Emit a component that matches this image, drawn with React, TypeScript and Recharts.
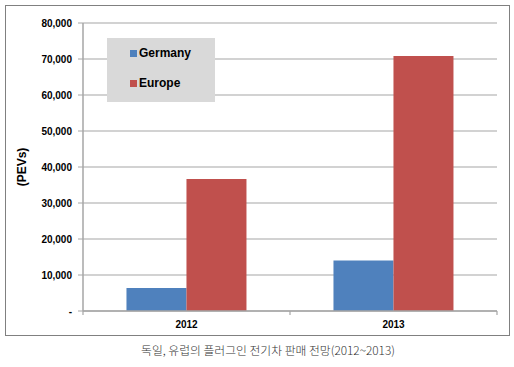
import React from 'react';
import { BarChart, Bar, XAxis, YAxis, CartesianGrid, Legend } from 'recharts';

const years = ['2012', '2013'];
const germany = [6400, 14000];
const europe = [36700, 70800];
const yTicks = [0, 10000, 20000, 30000, 40000, 50000, 60000, 70000, 80000];
const seriesOrder = ['Germany', 'Europe'];

const FONT = '"Liberation Sans", Arial, sans-serif';
const GRID = '#a6a6a6';

const data = years.map((year, i) => ({
  year,
  Germany: germany[i],
  Europe: europe[i],
}));

// grey legend box sitting inside the plot area
const LegendBox = (props: any) => {
  const items = [...(props.payload || [])].sort(
    (a: any, b: any) => seriesOrder.indexOf(a.value) - seriesOrder.indexOf(b.value)
  );
  return (
    <div
      style={{
        width: 108,
        height: 64,
        background: '#d9d9d9',
        boxSizing: 'border-box',
        paddingLeft: 23,
        paddingTop: 0,
        fontFamily: FONT,
        fontWeight: 'bold',
        fontSize: 12,
        color: '#000',
      }}
    >
      {items.map((it: any) => (
        <div
          key={it.value}
          style={{ display: 'flex', alignItems: 'center', height: 30 }}
        >
          <span
            style={{
              width: 7,
              height: 7,
              background: it.color,
              marginRight: 2,
              display: 'inline-block',
            }}
          />
          {it.value}
        </div>
      ))}
    </div>
  );
};

// category label plus Excel-style tick marks on the category boundaries
const YearTick = (props: any) => {
  const { x, y, payload, index, visibleTicksCount } = props;
  const half = payload.offset || 0;
  const axisY = y - 10;
  const last = index === (visibleTicksCount || years.length) - 1;
  return (
    <g>
      <line x1={x - half} x2={x - half} y1={axisY} y2={axisY + 4} stroke={GRID} strokeWidth={1.2} />
      {last && (
        <line x1={x + half} x2={x + half} y1={axisY} y2={axisY + 4} stroke={GRID} strokeWidth={1.2} />
      )}
      <text
        x={x}
        y={y}
        dy="0.71em"
        textAnchor="middle"
        fontFamily={FONT}
        fontSize={10}
        fontWeight="bold"
        fill="#000"
      >
        {payload.value}
      </text>
    </g>
  );
};

export default function App() {
  return (
    <div
      style={{
        position: 'absolute',
        left: 0,
        top: 0,
        width: 514,
        height: 367,
        background: '#fff',
      }}
    >
      <div
        style={{
          position: 'absolute',
          left: 5,
          top: 5,
          width: 505,
          height: 331,
          border: '1.5px solid #808080',
          boxSizing: 'border-box',
        }}
      />
      <div style={{ position: 'absolute', left: 0, top: 0 }}>
        <BarChart
          width={514}
          height={340}
          data={data}
          margin={{ top: 23, right: 17, left: 0, bottom: 5 }}
          barCategoryGap="21%"
          barGap={0}
        >
          <CartesianGrid vertical={false} stroke={GRID} strokeWidth={1.2} />
          <XAxis
            dataKey="year"
            height={24}
            axisLine={{ stroke: GRID, strokeWidth: 1.5 }}
            tickLine={false}
            tickSize={0}
            tickMargin={10}
            interval={0}
            tick={<YearTick />}
          />
          <YAxis
            width={83}
            domain={[0, 80000]}
            ticks={yTicks}
            interval={0}
            axisLine={{ stroke: GRID, strokeWidth: 1.5 }}
            tickLine={{ stroke: GRID }}
            tickSize={5}
            tickMargin={6}
            tick={{ fontFamily: FONT, fontSize: 10, fontWeight: 'bold', fill: '#000' }}
            tickFormatter={(v: number) => (v === 0 ? '-' : v.toLocaleString('en-US'))}
            label={(p: any) => {
              const vb = p.viewBox || {};
              const cy = (vb.y || 23) + (vb.height || 288) / 2;
              return (
                <text
                  x={26}
                  y={cy}
                  transform={`rotate(-90 26 ${cy})`}
                  textAnchor="middle"
                  fontFamily={FONT}
                  fontSize={12}
                  fontWeight="bold"
                  fill="#000"
                >
                  (PEVs)
                </text>
              );
            }}
          />
          {/* right-hand frame line of the plot area */}
          <YAxis
            yAxisId="frame"
            orientation="right"
            width={0}
            domain={[0, 80000]}
            tick={false}
            tickLine={false}
            axisLine={{ stroke: GRID, strokeWidth: 1.5 }}
          />
          <Legend
            layout="vertical"
            align="center"
            verticalAlign="middle"
            content={<LegendBox />}
            wrapperStyle={{ position: 'absolute', left: 107, top: 38, width: 108, height: 64 }}
          />
          <Bar dataKey="Germany" fill="#4f81bd" isAnimationActive={false} />
          <Bar dataKey="Europe" fill="#c0504d" isAnimationActive={false} />
        </BarChart>
      </div>
      <div
        style={{
          position: 'absolute',
          left: 11,
          top: 341,
          width: 514,
          textAlign: 'center',
          fontFamily: '"Noto Sans CJK KR", sans-serif',
          fontSize: 11.8,
          fontWeight: 300,
          color: '#333',
        }}
      >
        독일, 유럽의 플러그인 전기차 판매 전망(2012~2013)
      </div>
    </div>
  );
}
